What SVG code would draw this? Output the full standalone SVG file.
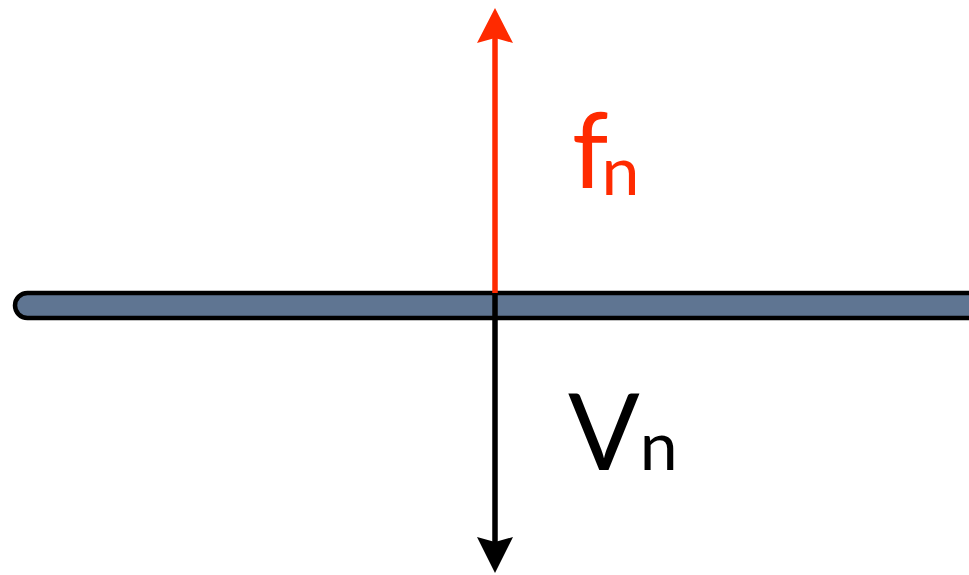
<svg xmlns="http://www.w3.org/2000/svg" width="969" height="575" viewBox="0 0 969 575">
<defs>
<style>
.lbl{font-family:Lato,"Open Sans","Liberation Sans",sans-serif;}
</style>
</defs>
<rect width="969" height="575" fill="#ffffff"/>
<g id="beam">
<rect x="15" y="293" width="980" height="25" rx="12.5" fill="#5f7592" stroke="#000" stroke-width="4.5"/>
</g>
<g id="connectors">
<line x1="495" y1="293" x2="495" y2="38" stroke="#ff2a00" stroke-width="5.5"/>
<polygon points="495,8 513,43 495,38 477,43" fill="#ff2a00"/>
<line x1="495" y1="293" x2="495" y2="542" stroke="#000" stroke-width="5.5"/>
<polygon points="495,573 513,537 495,542 477,537" fill="#000"/>
</g>
<g id="fn">
<text class="lbl" x="572" y="188" font-size="104" fill="#ff2a00">f<tspan font-size="68" dx="-7" dy="7">n</tspan></text>
</g>
<g id="vn">
<text class="lbl" x="568" y="470" font-size="106" fill="#000">V<tspan font-size="68">n</tspan></text>
</g>
</svg>
